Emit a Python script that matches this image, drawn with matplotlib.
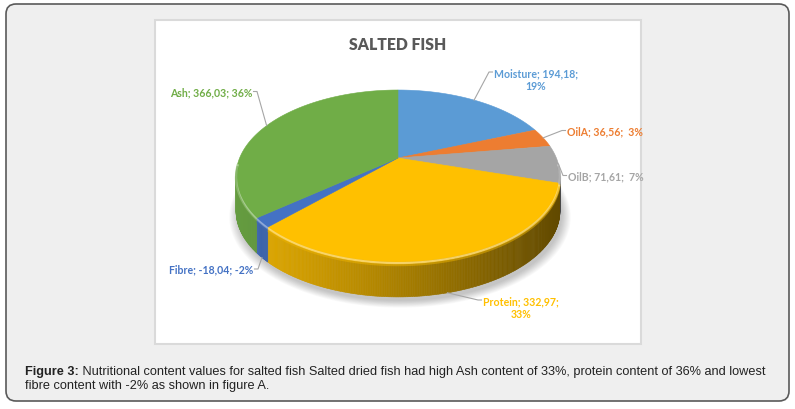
import numpy as np
import matplotlib
matplotlib.use("Agg")
import matplotlib.pyplot as plt
from matplotlib.patches import FancyBboxPatch, Rectangle, Polygon
from matplotlib import font_manager as fm
from matplotlib.colors import to_rgb

# ---------------- data ----------------
categories = ['Moisture', 'OilA', 'OilB', 'Protein', 'Fibre', 'Ash']
values = [194.18, 36.56, 71.61, 332.97, -18.04, 366.03]
value_labels = ['194,18', '36,56', '71,61', '332,97', '-18,04', '366,03']
pct_labels = ['19%', '3%', '7%', '33%', '-2%', '36%']
colors = ['#5B9BD5', '#ED7D31', '#A5A5A5', '#FFC000', '#4472C4', '#70AD47']
title = 'SALTED FISH'
caption_bold = 'Figure 3:'
caption_line1 = (' Nutritional content values for salted fish Salted dried fish had high Ash '
                 'content of 33%, protein content of 36% and lowest')
caption_line2 = 'fibre content with -2% as shown in figure A.'

names = {f.name for f in fm.fontManager.ttflist}
narrow = 'Liberation Sans Narrow' if 'Liberation Sans Narrow' in names else 'Lato'

# ---------------- figure ----------------
W, H = 795, 410
fig = plt.figure(figsize=(W / 100, H / 100), dpi=100)
fig.patch.set_facecolor('white')
ax = fig.add_axes([0, 0, 1, 1])
ax.set_xlim(0, W)
ax.set_ylim(H, 0)
ax.axis('off')

# outer frame
ax.add_patch(FancyBboxPatch((6, 5), 783, 397, boxstyle='round,pad=0,rounding_size=10',
                            facecolor='#efefef', edgecolor='#5a5a5a', lw=1.2, zorder=0))
# chart area
ax.add_patch(Rectangle((155, 21), 486, 324, facecolor='white', edgecolor='#dadada',
                       lw=1.5, zorder=1))

# ---------------- 3D pie geometry ----------------
cx, cy = 398.0, 159.0
a_r, b_r, p = 158.4, 82.2, 0.209
depth = 35.0


def proj(theta, dz=0.0):
    theta = np.asarray(theta, dtype=float)
    u, v = np.sin(theta), np.cos(theta)
    den = 1 + p * v
    return cx + a_r * u / den, cy - b_r * v / den + dz


mag = np.abs(np.array(values))
fracs = mag / mag.sum()
edges = np.concatenate([[0], np.cumsum(fracs)]) * 2 * np.pi
t_right = np.arccos(-p)
t_left = 2 * np.pi - t_right


def shade(col, f):
    r, g, b = to_rgb(col)
    return (r * f, g * f, b * f)


def lighten(col, f):
    r, g, b = to_rgb(col)
    return (r + (1 - r) * f, g + (1 - g) * f, b + (1 - b) * f)


# soft shadow
tt = np.linspace(0, 2 * np.pi, 400)
for k in range(10):
    s = 1.0 + 0.006 * k
    xs, ys = proj(tt, depth)
    xs = cx + (xs - cx) * s + 2
    ys = cy + depth * 0.4 + (ys - cy - depth * 0.4) * s + 4
    ax.add_patch(Polygon(np.column_stack([xs, ys]), closed=True, facecolor='#000000',
                         edgecolor='none', alpha=0.022, zorder=2))

# sides
for i in range(len(categories)):
    t0, t1 = max(edges[i], t_right), min(edges[i + 1], t_left)
    if t1 <= t0:
        continue
    n = max(2, int(np.degrees(t1 - t0) * 2))
    ts = np.linspace(t0, t1, n + 1)
    for ta, tb in zip(ts[:-1], ts[1:]):
        xa, ya = proj(ta)
        xb, yb = proj(tb)
        xm = 0.5 * (xa + xb)
        g = np.clip((xm - 235) / 324, 0, 1)
        f = 0.90 - 0.52 * g ** 1.15
        c = shade(colors[i], f)
        ax.add_patch(Polygon([(xa, ya), (xb, yb), (xb, yb + depth), (xa, ya + depth)],
                             closed=True, facecolor=c, edgecolor=c, lw=0.4, zorder=3))

# top faces
for i in range(len(categories)):
    ts = np.linspace(edges[i], edges[i + 1], max(3, int(np.degrees(edges[i + 1] - edges[i]) * 2)))
    xs, ys = proj(ts)
    pts = np.column_stack([np.concatenate([[cx], xs]), np.concatenate([[cy], ys])])
    ax.add_patch(Polygon(pts, closed=True, facecolor=colors[i], edgecolor=colors[i],
                         lw=0.4, zorder=4))

# bevel highlight on front rim
for i in range(len(categories)):
    t0, t1 = max(edges[i], t_right - 0.15), min(edges[i + 1], t_left + 0.15)
    if t1 <= t0:
        continue
    ts = np.linspace(t0, t1, 200)
    xs, ys = proj(ts)
    ax.plot(xs, ys + 1.2, color=lighten(colors[i], 0.45), lw=1.6, alpha=0.9,
            solid_capstyle='butt', zorder=5)
    ax.plot(xs, ys + 3.2, color=shade(colors[i], 0.93), lw=1.6, alpha=0.5,
            solid_capstyle='butt', zorder=5)

# ---------------- labels ----------------
label_pos = {
    'Moisture': (494, 73, 'left', True),
    'OilA': (567, 131.5, 'left', False),
    'OilB': (568, 176.5, 'left', False),
    'Protein': (483, 301, 'left', True),
    'Fibre': (253, 270, 'right', False),
    'Ash': (252, 92.5, 'right', False),
}
for i, cat in enumerate(categories):
    lx, ly, ha, two = label_pos[cat]
    mid = 0.5 * (edges[i] + edges[i + 1])
    px, py = proj(mid)
    if t_right < mid < t_left:
        py += depth
    if two:
        txt = f'{cat}; {value_labels[i]};\n{pct_labels[i]}'
        ty = ly + 7
    else:
        sep = '  ' if cat in ('OilA', 'OilB') else ' '
        txt = f'{cat}; {value_labels[i]};{sep}{pct_labels[i]}'
        ty = ly
    ax.text(lx, ty, txt, ha=ha, va='center', multialignment='center',
            fontsize=7.6, fontweight='bold', family=[narrow, 'DejaVu Sans'],
            color=colors[i], linespacing=1.25, zorder=6)
    if ha == 'left':
        xs = [px, lx - 5, lx - 1.5]
    else:
        xs = [px, lx + 5, lx + 1.5]
    ax.plot(xs, [py, ly, ly], color='#a6a6a6', lw=0.8, zorder=5)

# title
ax.text(398, 45, title, ha='center', va='center', fontsize=11.3, fontweight='heavy',
        family=[narrow, 'DejaVu Sans'], color='#595959', zorder=6)

# caption
cap_fs = 9.2
t1 = ax.text(25, 372, caption_bold, ha='left', va='center', fontsize=cap_fs, fontweight='bold',
             family=['Liberation Sans', 'DejaVu Sans'], color='#222222', zorder=6)
fig.canvas.draw()
bb = t1.get_window_extent(renderer=fig.canvas.get_renderer())
x_end = ax.transData.inverted().transform((bb.x1, bb.y0))[0]
ax.text(x_end, 372, caption_line1, ha='left', va='center', fontsize=cap_fs,
        family=['Liberation Sans', 'DejaVu Sans'], color='#222222', zorder=6)
ax.text(25, 386, caption_line2, ha='left', va='center', fontsize=cap_fs,
        family=['Liberation Sans', 'DejaVu Sans'], color='#222222', zorder=6)

fig.savefig('out.png', dpi=100)
